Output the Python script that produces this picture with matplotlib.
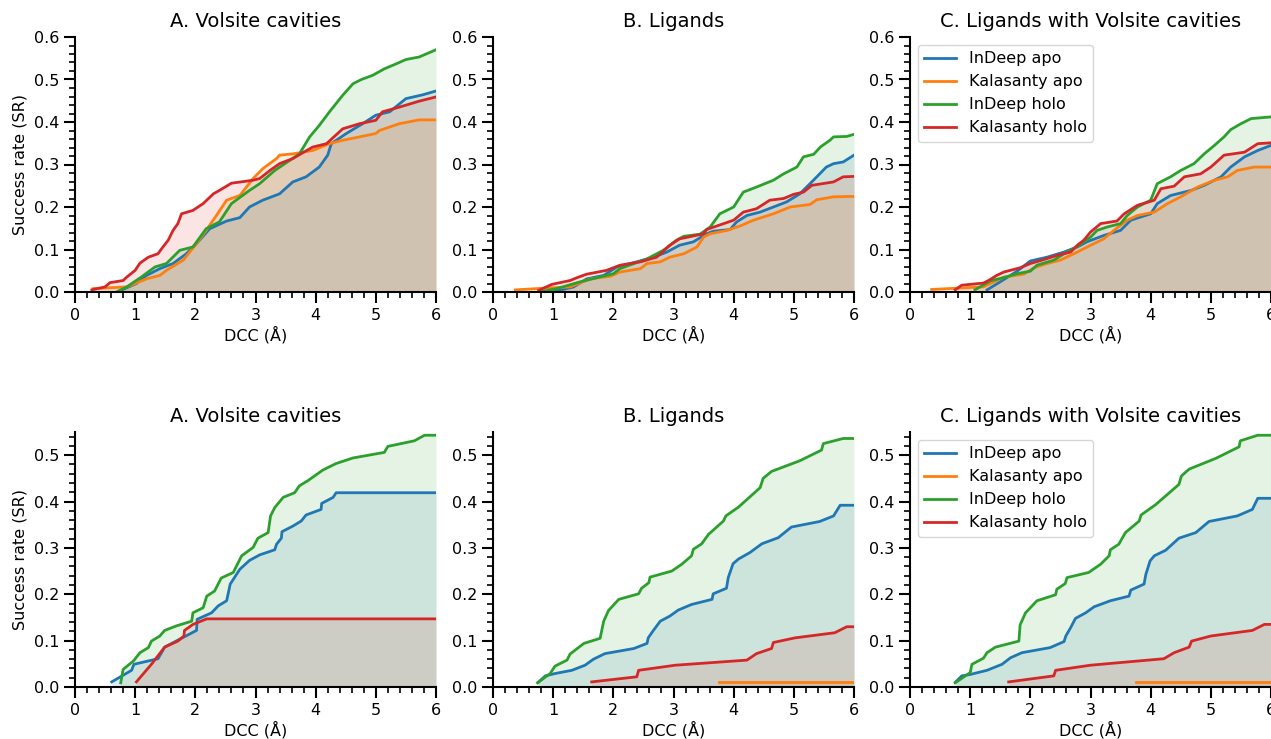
import matplotlib
matplotlib.use("Agg")
import matplotlib.pyplot as plt
from matplotlib.ticker import MultipleLocator

series_names = ["InDeep apo", "Kalasanty apo", "InDeep holo", "Kalasanty holo"]
colors = ["#1f77b4", "#ff7f0e", "#2ca02c", "#d62728"]
titles = ["A. Volsite cavities", "B. Ligands", "C. Ligands with Volsite cavities"]

# ---------- top row ----------
topA_apo_x = [0.70,1.02,1.19,1.41,1.63,1.85,2.02,2.24,2.52,2.74,2.90,3.12,3.40,3.62,3.84,4.06,4.20,4.26,4.51,4.78,5.00,5.23,5.50,5.78,6.00]
topA_apo_y = [0.0,0.020,0.039,0.055,0.067,0.090,0.114,0.149,0.167,0.175,0.200,0.216,0.231,0.259,0.271,0.294,0.322,0.349,0.373,0.396,0.416,0.424,0.455,0.464,0.473]
topA_kapo_x = [0.30,0.86,1.19,1.41,1.52,1.80,2.02,2.18,2.35,2.52,2.74,2.96,3.12,3.35,3.40,3.62,3.95,4.23,4.45,4.73,5.00,5.06,5.39,5.72,6.00]
topA_kapo_y = [0.008,0.012,0.031,0.039,0.051,0.075,0.114,0.145,0.180,0.216,0.227,0.267,0.290,0.314,0.322,0.325,0.333,0.349,0.357,0.365,0.373,0.380,0.396,0.405,0.405]
topA_holo_x = [0.69,0.86,1.10,1.33,1.52,1.74,1.96,2.18,2.40,2.60,2.90,3.07,3.32,3.73,3.90,4.06,4.23,4.45,4.62,4.76,4.95,5.14,5.34,5.50,5.72,6.00]
topA_holo_y = [0.0,0.012,0.035,0.059,0.067,0.098,0.106,0.149,0.165,0.208,0.239,0.255,0.286,0.325,0.365,0.392,0.424,0.463,0.490,0.500,0.510,0.525,0.537,0.547,0.553,0.570]
topA_kholo_x = [0.28,0.50,0.58,0.80,0.86,1.00,1.08,1.22,1.38,1.44,1.55,1.63,1.71,1.77,1.96,2.13,2.30,2.40,2.60,2.96,3.07,3.24,3.40,3.62,3.95,4.18,4.45,4.73,5.00,5.11,5.39,5.72,6.00]
topA_kholo_y = [0.005,0.012,0.022,0.027,0.035,0.051,0.068,0.082,0.090,0.102,0.122,0.145,0.161,0.184,0.192,0.208,0.231,0.239,0.256,0.263,0.267,0.286,0.302,0.314,0.341,0.349,0.384,0.396,0.404,0.424,0.435,0.449,0.459]

topB_apo_x = [0.98,1.34,1.56,1.84,2.06,2.39,2.67,2.89,3.10,3.33,3.55,3.66,3.94,4.05,4.22,4.44,4.66,4.88,5.10,5.27,5.43,5.54,5.66,5.82,6.00]
topB_apo_y = [0.0,0.012,0.031,0.039,0.059,0.071,0.082,0.094,0.110,0.118,0.137,0.143,0.147,0.165,0.180,0.188,0.200,0.212,0.231,0.255,0.278,0.294,0.302,0.306,0.322]
topB_kapo_x = [0.37,0.73,1.28,1.62,1.95,2.11,2.45,2.56,2.78,2.94,3.17,3.39,3.50,3.61,3.89,4.10,4.33,4.66,4.94,5.27,5.38,5.66,6.00]
topB_kapo_y = [0.005,0.008,0.012,0.031,0.037,0.047,0.055,0.067,0.071,0.082,0.090,0.106,0.129,0.137,0.145,0.155,0.169,0.184,0.200,0.206,0.217,0.224,0.225]
topB_holo_x = [0.76,1.06,1.45,2.00,2.11,2.56,2.83,3.05,3.17,3.44,3.61,3.77,4.00,4.16,4.38,4.66,4.83,5.05,5.16,5.33,5.44,5.60,5.66,5.88,6.00]
topB_holo_y = [0.0,0.008,0.024,0.043,0.055,0.078,0.098,0.122,0.131,0.136,0.153,0.184,0.200,0.235,0.247,0.263,0.278,0.294,0.318,0.324,0.341,0.357,0.365,0.366,0.371]
topB_kholo_x = [0.76,0.98,1.28,1.42,1.56,1.89,2.11,2.45,2.72,2.94,3.10,3.50,3.55,4.00,4.16,4.38,4.60,4.83,5.00,5.16,5.30,5.66,5.82,6.00]
topB_kholo_y = [0.004,0.018,0.027,0.035,0.042,0.051,0.063,0.071,0.082,0.110,0.125,0.137,0.147,0.169,0.188,0.196,0.216,0.220,0.230,0.235,0.251,0.259,0.271,0.272]

topC_apo_x = [1.28,1.50,1.78,2.00,2.28,2.56,2.78,2.94,3.22,3.50,3.67,4.00,4.11,4.33,4.67,4.89,5.17,5.33,5.56,5.78,6.00]
topC_apo_y = [0.005,0.024,0.049,0.073,0.082,0.094,0.106,0.118,0.133,0.145,0.169,0.184,0.208,0.227,0.239,0.251,0.271,0.294,0.318,0.333,0.345]
topC_kapo_x = [0.36,0.78,1.22,1.56,1.89,2.06,2.28,2.50,2.78,3.00,3.22,3.39,3.61,3.78,4.06,4.28,4.50,4.78,5.06,5.28,5.44,5.72,6.00]
topC_kapo_y = [0.006,0.009,0.012,0.035,0.042,0.057,0.067,0.075,0.094,0.110,0.125,0.145,0.169,0.180,0.188,0.208,0.224,0.247,0.263,0.271,0.286,0.294,0.294]
topC_holo_x = [1.08,1.33,1.56,1.78,2.00,2.11,2.39,2.56,2.78,3.00,3.11,3.28,3.50,3.61,3.78,4.00,4.11,4.33,4.50,4.72,4.89,5.06,5.22,5.33,5.50,5.67,6.00]
topC_holo_y = [0.005,0.026,0.034,0.043,0.049,0.063,0.075,0.090,0.107,0.129,0.145,0.153,0.161,0.180,0.200,0.216,0.255,0.271,0.286,0.302,0.325,0.345,0.365,0.382,0.396,0.408,0.412]
topC_kholo_x = [0.75,0.86,1.22,1.33,1.44,1.56,1.83,2.00,2.22,2.44,2.67,2.78,2.89,3.00,3.17,3.44,3.56,3.78,4.06,4.17,4.39,4.56,4.83,5.00,5.22,5.56,5.78,6.00]
topC_kholo_y = [0.005,0.016,0.021,0.029,0.039,0.047,0.057,0.067,0.076,0.086,0.094,0.110,0.122,0.141,0.161,0.167,0.184,0.204,0.216,0.243,0.249,0.271,0.278,0.294,0.322,0.329,0.349,0.351]

# ---------- bottom row ----------
botA_apo_x = [0.61,0.94,0.98,1.38,1.49,1.71,2.02,2.03,2.27,2.38,2.52,2.58,2.74,2.90,3.07,3.32,3.35,3.43,3.44,3.62,3.76,3.84,4.09,4.10,4.29,4.34,6.00]
botA_apo_y = [0.011,0.036,0.049,0.061,0.086,0.101,0.122,0.146,0.160,0.175,0.186,0.222,0.254,0.273,0.285,0.296,0.308,0.321,0.335,0.347,0.358,0.371,0.383,0.396,0.409,0.419,0.419]
botA_kapo_x = []
botA_kapo_y = []
botA_holo_x = [0.76,0.80,0.97,1.08,1.22,1.27,1.41,1.49,1.69,1.94,1.96,2.13,2.19,2.32,2.43,2.63,2.77,2.96,3.04,3.21,3.25,3.32,3.46,3.65,3.73,3.87,4.12,4.34,4.62,5.14,5.20,5.64,5.81,6.00]
botA_holo_y = [0.009,0.038,0.056,0.074,0.085,0.099,0.110,0.122,0.132,0.142,0.160,0.171,0.196,0.207,0.235,0.247,0.283,0.301,0.321,0.333,0.369,0.387,0.409,0.419,0.434,0.445,0.468,0.482,0.494,0.506,0.519,0.531,0.543,0.543]
botA_kholo_x = [1.02,1.27,1.49,1.71,1.81,1.82,1.96,2.19,6.00]
botA_kholo_y = [0.011,0.049,0.086,0.099,0.110,0.122,0.135,0.147,0.147]

botB_apo_x = [0.76,0.87,1.03,1.31,1.53,1.67,1.86,2.34,2.56,2.58,2.66,2.78,2.94,3.08,3.30,3.64,3.66,3.88,3.91,3.99,4.08,4.27,4.47,4.74,4.96,5.43,5.66,5.77,6.00]
botB_apo_y = [0.011,0.024,0.029,0.036,0.047,0.060,0.072,0.083,0.094,0.106,0.121,0.142,0.153,0.166,0.178,0.189,0.201,0.213,0.236,0.266,0.276,0.290,0.309,0.322,0.345,0.357,0.369,0.392,0.392]
botB_kapo_x = [3.76,6.00]
botB_kapo_y = [0.011,0.011]
botB_holo_x = [0.74,0.95,1.03,1.23,1.28,1.51,1.78,1.84,1.92,2.09,2.42,2.47,2.59,2.61,2.97,3.14,3.30,3.33,3.47,3.58,3.83,3.87,4.08,4.44,4.49,4.63,5.10,5.46,5.49,5.82,6.00]
botB_holo_y = [0.009,0.029,0.045,0.058,0.071,0.094,0.105,0.142,0.165,0.189,0.201,0.213,0.225,0.237,0.250,0.265,0.283,0.297,0.309,0.329,0.358,0.369,0.388,0.430,0.450,0.465,0.488,0.511,0.525,0.536,0.536]
botB_kholo_x = [1.64,2.39,2.42,3.03,4.22,4.38,4.63,4.66,5.02,5.68,5.88,6.00]
botB_kholo_y = [0.011,0.022,0.036,0.047,0.058,0.072,0.083,0.096,0.106,0.117,0.130,0.130]

botC_apo_x = [0.76,0.86,1.00,1.28,1.53,1.67,1.86,2.33,2.56,2.59,2.67,2.75,2.92,3.06,3.33,3.64,3.67,3.89,3.92,3.99,4.06,4.25,4.47,4.75,4.97,5.44,5.69,5.78,6.00]
botC_apo_y = [0.011,0.024,0.027,0.036,0.049,0.063,0.074,0.085,0.098,0.110,0.128,0.148,0.160,0.173,0.186,0.196,0.209,0.222,0.243,0.272,0.283,0.295,0.321,0.333,0.357,0.369,0.383,0.407,0.407]
botC_kapo_x = [3.76,6.00]
botC_kapo_y = [0.011,0.011]
botC_holo_x = [0.75,1.00,1.03,1.22,1.28,1.42,1.81,1.83,1.92,2.11,2.42,2.44,2.58,2.61,2.97,3.17,3.31,3.33,3.47,3.58,3.81,3.84,4.08,4.47,4.51,4.64,5.08,5.47,5.49,5.78,6.00]
botC_holo_y = [0.009,0.031,0.049,0.062,0.074,0.086,0.099,0.134,0.160,0.186,0.199,0.211,0.223,0.236,0.247,0.265,0.283,0.296,0.308,0.333,0.358,0.371,0.393,0.437,0.455,0.470,0.493,0.518,0.531,0.543,0.543]
botC_kholo_x = [1.64,2.39,2.42,3.00,4.22,4.39,4.64,4.68,5.00,5.69,5.89,6.00]
botC_kholo_y = [0.011,0.024,0.036,0.047,0.061,0.074,0.086,0.099,0.110,0.122,0.135,0.135]

panels = [
    [(topA_apo_x, topA_apo_y), (topA_kapo_x, topA_kapo_y), (topA_holo_x, topA_holo_y), (topA_kholo_x, topA_kholo_y)],
    [(topB_apo_x, topB_apo_y), (topB_kapo_x, topB_kapo_y), (topB_holo_x, topB_holo_y), (topB_kholo_x, topB_kholo_y)],
    [(topC_apo_x, topC_apo_y), (topC_kapo_x, topC_kapo_y), (topC_holo_x, topC_holo_y), (topC_kholo_x, topC_kholo_y)],
    [(botA_apo_x, botA_apo_y), (botA_kapo_x, botA_kapo_y), (botA_holo_x, botA_holo_y), (botA_kholo_x, botA_kholo_y)],
    [(botB_apo_x, botB_apo_y), (botB_kapo_x, botB_kapo_y), (botB_holo_x, botB_holo_y), (botB_kholo_x, botB_kholo_y)],
    [(botC_apo_x, botC_apo_y), (botC_kapo_x, botC_kapo_y), (botC_holo_x, botC_holo_y), (botC_kholo_x, botC_kholo_y)],
]

plt.rcParams['font.family'] = ['DejaVu Sans']
W, H = 1271, 739
fig = plt.figure(figsize=(W/100, H/100), dpi=100)

lefts = [75, 493, 910]
width = 361
rows = [(37, 292, 0.6), (432, 687, 0.55)]

for idx, data in enumerate(panels):
    r, c = divmod(idx, 3)
    top, bot, ymax = rows[r]
    ax = fig.add_axes([lefts[c]/W, (H-bot)/H, width/W, (bot-top)/H])
    for (xs, ys), col, name in zip(data, colors, series_names):
        ax.plot(xs, ys, color=col, lw=2, label=name, clip_on=False if False else True)
        if len(xs):
            ax.fill_between(xs, 0, ys, color=col, alpha=0.12, lw=0)
    ax.set_xlim(0, 6)
    ax.set_ylim(0, ymax)
    ax.xaxis.set_major_locator(MultipleLocator(1))
    ax.xaxis.set_minor_locator(MultipleLocator(0.2))
    ax.yaxis.set_major_locator(MultipleLocator(0.1))
    ax.yaxis.set_minor_locator(MultipleLocator(0.02))
    ax.yaxis.set_major_formatter(matplotlib.ticker.FormatStrFormatter('%.1f'))
    ax.xaxis.set_major_formatter(matplotlib.ticker.FormatStrFormatter('%d'))
    for s in ['top', 'right']:
        ax.spines[s].set_visible(False)
    for s in ['left', 'bottom']:
        ax.spines[s].set_linewidth(1.5)
    ax.tick_params(which='major', length=8, width=1.5, labelsize=11.5)
    ax.tick_params(which='minor', length=4, width=1.2)
    ax.set_xlabel("DCC (Å)", fontsize=11.5, labelpad=2)
    if c == 0:
        ax.set_ylabel("Success rate (SR)", fontsize=11.5)
    ax.set_title(titles[c], fontsize=14, pad=7)
    if c == 2:
        ax.legend(loc='upper left', fontsize=11.5, handlelength=2.0, borderaxespad=0.5)

fig.savefig("out.png", dpi=100)
